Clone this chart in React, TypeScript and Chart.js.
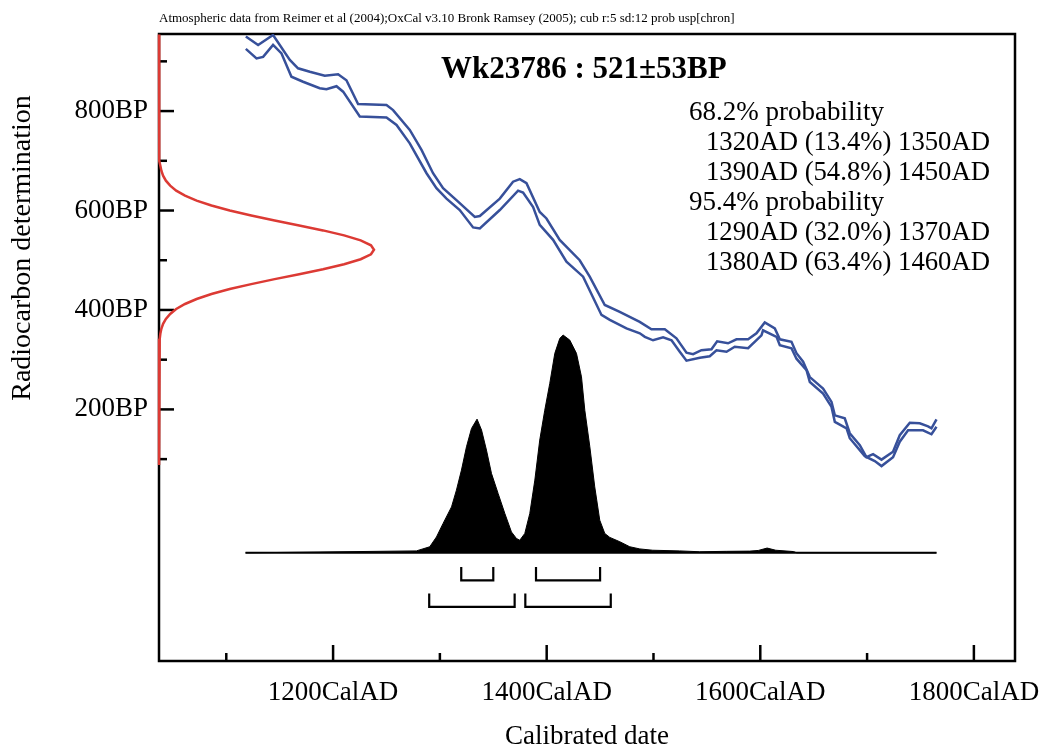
import React, { useEffect, useRef } from 'react';
import { Chart, registerables } from 'chart.js';

Chart.register(...registerables);

// ---- axis ranges / ticks ----
const X_MIN = 1037;
const X_MAX = 1838.5;
const Y_MIN = -306;
const Y_MAX = 955;
const X_MAJOR = [1200, 1400, 1600, 1800];
const X_MINOR = [1100, 1300, 1500, 1700];
const Y_MAJOR = [200, 400, 600, 800];
const Y_MINOR = [100, 300, 500, 700, 900];

// ---- calibration curve (upper and lower 1-sigma envelope, BP) ----
const upperYears = [1118.3, 1129.8, 1143.8, 1159.5, 1167.2, 1178.2, 1192.2, 1204.7, 1212.5, 1223.4, 1250, 1256.2, 1271.8, 1282.8, 1293.6, 1303, 1315.5, 1332.7, 1337.4, 1356.1, 1368.5, 1374.8, 1381.1, 1393.5, 1399.8, 1412.2, 1430.9, 1440.3, 1454.4, 1468.4, 1487.1, 1498.1, 1510.6, 1521.5, 1530.9, 1537.1, 1544.9, 1554.3, 1559.6, 1569.8, 1577.7, 1588.6, 1596.4, 1604.2, 1613.6, 1618.3, 1629.2, 1633.9, 1640.1, 1646.4, 1658.8, 1666.7, 1669.8, 1679.1, 1683.8, 1693.2, 1699.4, 1705.6, 1713.5, 1724.3, 1730.6, 1740, 1749.3, 1757.1, 1760.3, 1765];
const upperBP = [950, 933, 953, 903, 886, 879, 871, 874, 862, 814, 812, 802, 762, 722, 675, 645, 621, 587, 589, 624, 658, 663, 655, 597, 584, 541, 500, 467, 410, 396, 376, 361, 361, 343, 314, 311, 319, 321, 337, 333, 341, 341, 353, 375, 363, 341, 336, 313, 296, 265, 242, 215, 188, 182, 152, 128, 104, 110, 99, 115, 148, 173, 172, 166, 162, 180];
const lowerYears = [1118.3, 1128.3, 1134.5, 1143.8, 1151.7, 1161, 1171.9, 1187.5, 1193.8, 1203.2, 1209.4, 1225, 1250, 1259.4, 1271.8, 1287.5, 1296.8, 1306.2, 1318.6, 1331.1, 1337.4, 1356.1, 1373.2, 1377.9, 1387.3, 1393.5, 1406, 1418.5, 1434.1, 1451.3, 1459.1, 1474.7, 1487.2, 1491.9, 1499.6, 1509, 1516.9, 1524.6, 1530.9, 1543.4, 1552.7, 1559, 1568.4, 1576.1, 1588.6, 1601.1, 1602.6, 1615.2, 1618.3, 1629.2, 1633.9, 1643.3, 1646.4, 1658.8, 1666.7, 1669.8, 1680.8, 1683.8, 1697.9, 1707.2, 1713.5, 1724.3, 1730.6, 1738.4, 1752.4, 1760.3, 1765];
const lowerBP = [925, 906, 909, 933, 916, 869, 859, 846, 844, 850, 839, 789, 787, 772, 735, 675, 645, 624, 601, 566, 564, 601, 640, 636, 607, 571, 541, 497, 467, 390, 380, 363, 353, 346, 339, 345, 339, 316, 298, 304, 307, 319, 316, 326, 323, 349, 359, 346, 329, 323, 302, 279, 255, 232, 205, 175, 162, 142, 106, 96, 86, 104, 135, 158, 158, 150, 165];

// ---- calibrated probability distribution (relative) ----
const distYears = [1118, 1278, 1290.5, 1296.8, 1303, 1310.9, 1315.5, 1320.2, 1324.9, 1329.6, 1334.8, 1339, 1343.6, 1348.3, 1354.5, 1360.8, 1367, 1371.7, 1374.8, 1379.5, 1384.2, 1388.9, 1393.5, 1398.2, 1402.9, 1407.6, 1412.3, 1415.4, 1421.6, 1427.9, 1432.6, 1435.7, 1440.4, 1445, 1449.7, 1454.4, 1459.1, 1468.5, 1477.8, 1487.2, 1499.3, 1524.6, 1543.3, 1568.6, 1590.2, 1598.1, 1606.4, 1614.5, 1631.1, 1634.2, 1765];
const distProb = [0, 0.009, 0.028, 0.073, 0.135, 0.211, 0.288, 0.38, 0.487, 0.571, 0.614, 0.564, 0.472, 0.365, 0.273, 0.181, 0.096, 0.066, 0.058, 0.089, 0.181, 0.334, 0.518, 0.655, 0.778, 0.916, 0.985, 1.0, 0.977, 0.916, 0.808, 0.655, 0.487, 0.303, 0.15, 0.089, 0.071, 0.051, 0.028, 0.018, 0.012, 0.009, 0.005, 0.007, 0.008, 0.011, 0.022, 0.012, 0.006, 0, 0];
const DIST_BASE = -88.5; // BP level of the distribution baseline
const DIST_HEIGHT = 438; // BP span of the tallest peak

// ---- radiocarbon measurement 521±53 BP (relative density) ----
const redBP = [954, 760, 740, 720, 700, 690, 680, 670, 660, 650, 640, 630, 620, 610, 600, 590, 580, 570, 560, 550, 540, 530, 521, 512, 502, 492, 482, 472, 462, 452, 442, 432, 422, 412, 402, 392, 382, 372, 362, 352, 342, 322, 302, 282, 88];
const redProb = [0, 0, 0.0002, 0.0009, 0.0033, 0.0062, 0.011, 0.019, 0.032, 0.052, 0.08, 0.121, 0.175, 0.244, 0.329, 0.429, 0.538, 0.652, 0.763, 0.861, 0.938, 0.986, 1, 0.986, 0.938, 0.861, 0.763, 0.652, 0.538, 0.429, 0.329, 0.244, 0.175, 0.121, 0.08, 0.052, 0.032, 0.019, 0.011, 0.0062, 0.0033, 0.0009, 0.0002, 0, 0];
const RED_WIDTH = 201.3; // years spanned by peak of the measurement curve

// ---- ranges ----
const ranges68 = [[1320, 1350], [1390, 1450]];
const ranges95 = [[1290, 1370], [1380, 1460]];
const BRACKET68 = [-117, -144];
const BRACKET95 = [-170, -197];

// ---- texts ----
const HEADER = 'Atmospheric data from Reimer et al (2004);OxCal v3.10 Bronk Ramsey (2005); cub r:5 sd:12 prob usp[chron]';
const TITLE = 'Wk23786 : 521\u00b153BP';
const PROB_LINES: [string, boolean][] = [
  ['68.2% probability', false],
  ['1320AD (13.4%) 1350AD', true],
  ['1390AD (54.8%) 1450AD', true],
  ['95.4% probability', false],
  ['1290AD (32.0%) 1370AD', true],
  ['1380AD (63.4%) 1460AD', true],
];
const X_TITLE = 'Calibrated date';
const Y_TITLE = 'Radiocarbon determination';

const FONT = '"Liberation Serif", "Times New Roman", serif';
const BLUE = '#37509a';
const RED = '#dc3a34';

function bracketData(r: number[], lv: number[]) {
  return [
    { x: r[0], y: lv[0] },
    { x: r[0], y: lv[1] },
    { x: r[1], y: lv[1] },
    { x: r[1], y: lv[0] },
  ];
}

const overlay = {
  id: 'overlay',
  beforeDatasetsDraw(chart: any) {
    const { ctx, chartArea: a, scales } = chart;
    const x = scales.x;
    const y = scales.y;
    ctx.save();
    ctx.strokeStyle = '#000';
    ctx.lineWidth = 2.5;
    ctx.lineCap = 'butt';
    ctx.strokeRect(a.left, a.top, a.right - a.left, a.bottom - a.top);
    const seg = (x1: number, y1: number, x2: number, y2: number) => {
      ctx.beginPath();
      ctx.moveTo(x1, y1);
      ctx.lineTo(x2, y2);
      ctx.stroke();
    };
    X_MAJOR.forEach((v) => { const p = x.getPixelForValue(v); seg(p, a.bottom, p, a.bottom - 16); });
    X_MINOR.forEach((v) => { const p = x.getPixelForValue(v); seg(p, a.bottom, p, a.bottom - 8); });
    Y_MAJOR.forEach((v) => { const p = y.getPixelForValue(v); seg(a.left, p, a.left + 15, p); });
    Y_MINOR.forEach((v) => { const p = y.getPixelForValue(v); seg(a.left, p, a.left + 8, p); });
    ctx.restore();
  },
  afterDraw(chart: any) {
    const { ctx, chartArea: a } = chart;
    ctx.save();
    ctx.fillStyle = '#000';
    // header
    ctx.font = `13px ${FONT}`;
    ctx.textAlign = 'left';
    ctx.textBaseline = 'middle';
    ctx.fillText(HEADER, a.left, 19, 582);
    // title
    ctx.font = `bold 31px ${FONT}`;
    ctx.textBaseline = 'alphabetic';
    ctx.fillText(TITLE, 441, 78, 297);
    // probability block
    ctx.font = `27px ${FONT}`;
    PROB_LINES.forEach(([t, indent], i) => {
      ctx.fillText(t, indent ? 706 : 689, 120 + 30 * i, indent ? 284 : 400);
    });
    // axis titles
    ctx.font = `27px ${FONT}`;
    ctx.textAlign = 'center';
    ctx.textBaseline = 'middle';
    ctx.fillText(X_TITLE, (a.left + a.right) / 2, 737);
    ctx.translate(23, 248);
    ctx.rotate(-Math.PI / 2);
    ctx.font = `28px ${FONT}`;
    ctx.fillText(Y_TITLE, 0, 0);
    ctx.restore();
  },
};

export default function App() {
  const ref = useRef<HTMLCanvasElement>(null);
  useEffect(() => {
    const canvas = ref.current;
    if (!canvas) return;
    const distData = distYears.map((yr, i) => ({ x: yr, y: DIST_BASE + distProb[i] * DIST_HEIGHT }));
    const redData = redBP.map((bp, i) => ({ x: X_MIN + redProb[i] * RED_WIDTH, y: bp }));
    const upperData = upperYears.map((yr, i) => ({ x: yr, y: upperBP[i] }));
    const lowerData = lowerYears.map((yr, i) => ({ x: yr, y: lowerBP[i] }));
    const baseData = [
      { x: distYears[0], y: DIST_BASE },
      { x: distYears[distYears.length - 1], y: DIST_BASE },
    ];
    const line = (data: any[], color: string, width: number, extra: any = {}) => ({
      data,
      borderColor: color,
      backgroundColor: color,
      borderWidth: width,
      pointRadius: 0,
      tension: 0,
      fill: false,
      ...extra,
    });
    const chart = new Chart(canvas, {
      type: 'line',
      data: {
        datasets: [
          line(distData, '#000', 1, { fill: { value: DIST_BASE }, backgroundColor: '#000' }),
          line(baseData, '#000', 2),
          line(upperData, BLUE, 2.5),
          line(lowerData, BLUE, 2.5),
          ...ranges68.map((r) => line(bracketData(r, BRACKET68), '#000', 2.2)),
          ...ranges95.map((r) => line(bracketData(r, BRACKET95), '#000', 2.2)),
          line(redData, RED, 2.5, { clip: false }),
        ] as any,
      },
      options: {
        animation: false,
        responsive: false,
        events: [],
        layout: { padding: { left: 0, right: 28, top: 34, bottom: 0 } },
        plugins: { legend: { display: false }, tooltip: { enabled: false }, title: { display: false } },
        scales: {
          x: {
            type: 'linear',
            min: X_MIN,
            max: X_MAX,
            grid: { display: false, drawTicks: false },
            border: { display: false },
            afterBuildTicks: (s: any) => { s.ticks = X_MAJOR.map((v) => ({ value: v })); },
            afterFit: (s: any) => { s.height = 88; s.paddingLeft = 0; s.paddingRight = 0; },
            ticks: {
              autoSkip: false,
              maxRotation: 0,
              padding: 16,
              color: '#000',
              font: { family: FONT, size: 27 },
              callback: (v: any) => `${v}CalAD`,
            },
          },
          y: {
            type: 'linear',
            min: Y_MIN,
            max: Y_MAX,
            grid: { display: false, drawTicks: false },
            border: { display: false },
            afterBuildTicks: (s: any) => { s.ticks = Y_MAJOR.map((v) => ({ value: v })); },
            afterFit: (s: any) => { s.width = 159; s.paddingTop = 0; s.paddingBottom = 0; },
            ticks: {
              autoSkip: false,
              padding: 11,
              color: '#000',
              font: { family: FONT, size: 27 },
              callback: (v: any) => `${v}BP`,
            },
          },
        },
      },
      plugins: [overlay],
    } as any);
    return () => chart.destroy();
  }, []);
  return (
    <div style={{ position: 'absolute', left: 0, top: 0, width: 1043, height: 749, background: '#fff' }}>
      <canvas ref={ref} width={1043} height={749} style={{ width: 1043, height: 749, display: 'block' }} />
    </div>
  );
}
